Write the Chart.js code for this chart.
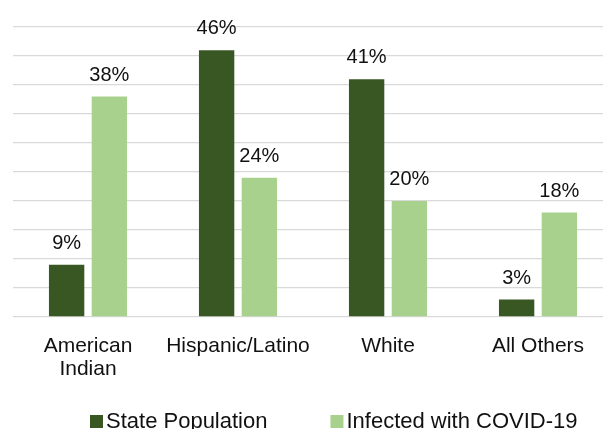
<!DOCTYPE html>
<html>
<head>
<meta charset="utf-8">
<script src="https://cdn.jsdelivr.net/npm/chart.js@4.4.0/dist/chart.umd.min.js"></script>
<style>
  html, body { margin: 0; padding: 0; background: #fff; overflow: hidden; }
  #wrap { width: 613px; height: 429px; }
</style>
</head>
<body>
<div id="wrap"><canvas id="chart" width="613" height="429"></canvas></div>
<script>
// data
var groups = [["American", "Indian"], "Hispanic/Latino", "White", "All Others"];
var seriesNames = ["State Population", "Infected with COVID-19"];
var statePopulation = [9, 46, 41, 3];
var infectedCovid = [38, 24, 20, 18];
var seriesColors = ["#385723", "#A9D18E"];

var FONT = "'Liberation Sans', Arial, sans-serif";
var TEXT = "#111111";

// value labels on top of each bar
var barLabels = {
  id: "barLabels",
  afterDatasetsDraw: function (chart) {
    var ctx = chart.ctx;
    ctx.save();
    ctx.font = "20px " + FONT;
    ctx.fillStyle = TEXT;
    ctx.textAlign = "center";
    ctx.textBaseline = "alphabetic";
    chart.data.datasets.forEach(function (ds, i) {
      chart.getDatasetMeta(i).data.forEach(function (bar, j) {
        ctx.fillText(ds.data[j] + "%", bar.x, bar.y - 16);
      });
    });
    ctx.restore();
  }
};

// legend drawn at the bottom with tight box/text spacing
var bottomLegend = {
  id: "bottomLegend",
  afterDraw: function (chart) {
    var ctx = chart.ctx;
    ctx.save();
    ctx.font = "22px " + FONT;
    ctx.textBaseline = "middle";
    ctx.textAlign = "left";
    var x = 90;
    var y = 422;
    chart.data.datasets.forEach(function (ds) {
      ctx.fillStyle = ds.backgroundColor;
      ctx.fillRect(x, y - 7, 13, 13);
      ctx.fillStyle = TEXT;
      ctx.fillText(ds.label, x + 16, y);
      x += 16 + ctx.measureText(ds.label).width + 63;
    });
    ctx.restore();
  }
};

var ctx = document.getElementById("chart").getContext("2d");
var myChart = new Chart(ctx, {
  type: "bar",
  data: {
    labels: groups,
    datasets: [
      { label: seriesNames[0], data: statePopulation, backgroundColor: seriesColors[0] },
      { label: seriesNames[1], data: infectedCovid, backgroundColor: seriesColors[1] }
    ]
  },
  options: {
    responsive: false,
    animation: false,
    layout: { padding: { top: 27, left: 13, right: 0, bottom: 0 } },
    datasets: {
      bar: { categoryPercentage: 0.57, barPercentage: 0.827 }
    },
    plugins: {
      legend: { display: false },
      tooltip: { enabled: false }
    },
    scales: {
      x: {
        grid: { display: false },
        border: { display: false },
        ticks: {
          color: TEXT,
          font: { family: FONT, size: 21, lineHeight: 1.12 },
          padding: 9,
          maxRotation: 0,
          autoSkip: false
        },
        afterFit: function (s) { s.height = 112; }
      },
      y: {
        min: 0,
        max: 50,
        ticks: { display: false, stepSize: 5 },
        border: { display: false },
        grid: { color: "#d9d9d9", lineWidth: 1.3, drawTicks: false },
        afterFit: function (s) { s.width = 0; }
      }
    }
  },
  plugins: [barLabels, bottomLegend]
});
</script>
</body>
</html>
